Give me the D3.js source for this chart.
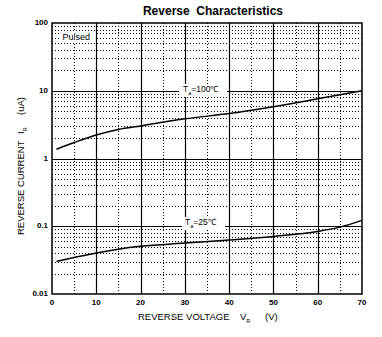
<!DOCTYPE html>
<html><head><meta charset="utf-8">
<script src="https://cdn.jsdelivr.net/npm/d3@7"></script>
<style>body{margin:0;background:#fff}svg{display:block}text{font-family:"Liberation Sans",Arial,sans-serif;fill:#000;white-space:pre}</style>
</head><body>
<script>
const title = "Reverse  Characteristics";
const xTicks = [0,10,20,30,40,50,60,70];
const yTicks = [0.01,0.1,1,10,100];
const yTickLabels = ["0.01","0.1","1","10","100"];
const v100 = [1,5,10,15,20,30,40,50,60,70];
const i100 = [1.37,1.72,2.22,2.68,3.02,3.85,4.6,5.8,7.6,10.0];
const v25 = [1,5,10,15,20,30,40,50,60,65,70];
const i25 = [0.0303,0.0345,0.0403,0.0458,0.0505,0.0565,0.0625,0.0707,0.0838,0.097,0.122];

const W=382,H=337;
const svg=d3.select("body").append("svg").attr("width",W).attr("height",H);
const x=d3.scaleLinear().domain([0,70]).range([52,362]);
const y=d3.scaleLog().domain([0.01,100]).range([294,23]);

const g=svg.append("g");
const xMinor=d3.range(5,70,10);
g.selectAll(".vm").data(xMinor).enter().append("line")
 .attr("x1",d=>Math.round(x(d))+0.5).attr("x2",d=>Math.round(x(d))+0.5).attr("y1",y(100)).attr("y2",y(0.01))
 .attr("stroke","#000").attr("stroke-width",1).attr("stroke-dasharray","1,2");
const yMinor=[];
[0.01,0.1,1,10].forEach(dec=>{for(let k=2;k<=9;k++)yMinor.push(dec*k);});
g.selectAll(".hm").data(yMinor).enter().append("line")
 .attr("x1",x(0)).attr("x2",x(70)).attr("y1",d=>Math.round(y(d))+0.5).attr("y2",d=>Math.round(y(d))+0.5)
 .attr("stroke","#000").attr("stroke-width",1).attr("stroke-dasharray","1,2");
g.selectAll(".vM").data(xTicks.slice(1,-1)).enter().append("line")
 .attr("x1",d=>Math.round(x(d))+0.5).attr("x2",d=>Math.round(x(d))+0.5).attr("y1",y(100)).attr("y2",y(0.01))
 .attr("stroke","#000").attr("stroke-width",1.2);
g.selectAll(".hM").data(yTicks.slice(1,-1)).enter().append("line")
 .attr("x1",x(0)).attr("x2",x(70)).attr("y1",d=>Math.round(y(d))+0.5).attr("y2",d=>Math.round(y(d))+0.5)
 .attr("stroke","#000").attr("stroke-width",1.2);

const line=d3.line().x(d=>x(d[0])).y(d=>y(d[1])).curve(d3.curveMonotoneX);
svg.append("path").datum(d3.zip(v100,i100)).attr("d",line).attr("fill","none").attr("stroke","#000").attr("stroke-width",1.5);
svg.append("path").datum(d3.zip(v25,i25)).attr("d",line).attr("fill","none").attr("stroke","#000").attr("stroke-width",1.5);

svg.append("rect").attr("x",x(0)).attr("y",y(100)).attr("width",x(70)-x(0)).attr("height",y(0.01)-y(100))
 .attr("fill","none").attr("stroke","#000").attr("stroke-width",1.5);

function label(tx,ty,main,sub,rest,bx,by,bw,bh){
  svg.append("rect").attr("x",bx).attr("y",by).attr("width",bw).attr("height",bh).attr("fill","#fff");
  const t=svg.append("text").attr("x",tx).attr("y",ty).attr("font-size",8.5);
  t.append("tspan").text(main);
  t.append("tspan").attr("font-size",5.5).attr("dy",3).text(sub);
  t.append("tspan").attr("dy",-3).text(rest);
}
label(183,92,"T","a","=100\u2103",179,84,48,13);
label(185,225,"T","a","=25\u2103",182,217,43,13);
svg.append("rect").attr("x",61).attr("y",31).attr("width",34).attr("height",11).attr("fill","#fff");
svg.append("text").attr("x",62.5).attr("y",39.5).attr("font-size",9).text("Pulsed");

svg.append("g").selectAll("text").data(xTicks).enter().append("text")
 .attr("x",d=>x(d)).attr("y",305).attr("text-anchor","middle").attr("font-size",8).attr("font-weight","bold").text(d=>d);
svg.append("g").selectAll("text").data(yTicks).enter().append("text")
 .attr("x",48).attr("y",d=>y(d)+2).attr("text-anchor","end").attr("font-size",8).attr("font-weight","bold").text((d,i)=>yTickLabels[i]);

svg.append("text").attr("x",213).attr("y",15).attr("text-anchor","middle").attr("font-size",12).attr("font-weight","bold").text(title);

const xt=svg.append("text").attr("x",138).attr("y",320).attr("font-size",9.5);
xt.append("tspan").text("REVERSE VOLTAGE");
xt.append("tspan").attr("x",240).text("V");
xt.append("tspan").attr("font-size",5.5).attr("dy",3).text("R");
xt.append("tspan").attr("x",265).attr("dy",-3).text("(V)");

const yt=svg.append("text").attr("transform","translate(23.5,235) rotate(-90)").attr("font-size",9.5);
yt.append("tspan").attr("x",0).text("REVERSE CURRENT");
yt.append("tspan").attr("x",101).text("I");
yt.append("tspan").attr("font-size",5.5).attr("dy",3).text("R");
yt.append("tspan").attr("x",120).attr("dy",-3).text("(uA)");
</script>
</body></html>
